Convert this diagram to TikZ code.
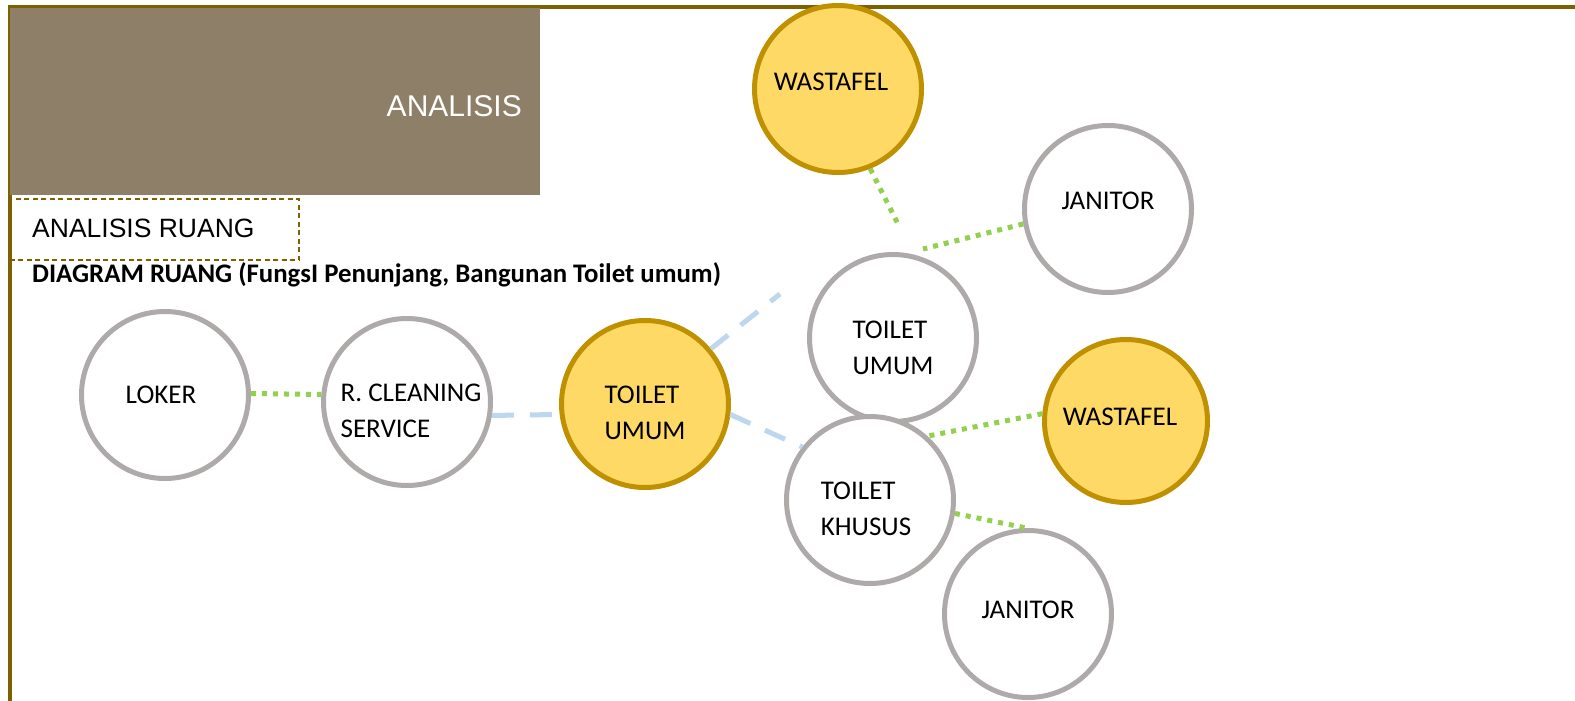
\documentclass[tikz,border=0pt]{standalone}
\usepackage{fontspec}
\setmainfont{Carlito}
\newfontfamily\arialf{Liberation Sans}
\usetikzlibrary{calc}
\definecolor{frame}{HTML}{7F6000}
\definecolor{headbg}{HTML}{8E8068}
\definecolor{cgray}{HTML}{AEAAAA}
\definecolor{yfill}{HTML}{FFD966}
\definecolor{yline}{HTML}{BF9000}
\definecolor{lgreen}{HTML}{92D050}
\definecolor{lblue}{HTML}{BDD7EE}
\tikzset{
  room/.style={circle, draw=cgray, line width=5pt, fill=white, inner sep=0pt, minimum size=167pt},
  yroom/.style={room, draw=yline, fill=yfill},
  lbl/.style={inner sep=0pt, align=left, font=\fontsize{27}{36}\selectfont},
  greenlink/.style={draw=lgreen, line width=5pt, dash pattern=on 5pt off 6pt},
  bluelink/.style={draw=lblue, line width=5pt, dash pattern=on 22pt off 16pt},
}
\begin{document}
\begin{tikzpicture}[x=1pt,y=-1pt]
\useasboundingbox (0,0) rectangle (1575,701);
\fill[white] (0,0) rectangle (1575,701);
% frame
\draw[frame, line width=3.5pt] (1575,7) -- (10,7) -- (10,701);
% header
\fill[headbg] (10,8.5) rectangle (540,195);
\node[inner sep=0pt, anchor=base east, text=white, font=\arialf\fontsize{30}{36}\selectfont] (title) at (522,117) {ANALISIS};
\draw[frame, line width=1.5pt, dash pattern=on 5pt off 3.5pt] (11,199) rectangle (299,260);
\node[inner sep=0pt, anchor=base west, font=\arialf\fontsize{26.5}{32}\selectfont] (sub) at (32,237) {ANALISIS RUANG};
\node[inner sep=0pt, anchor=base west, font=\bfseries\fontsize{26.8}{32}\selectfont] (cap) at (32,282) {DIAGRAM RUANG (FungsI Penunjang, Bangunan Toilet umum)};
% rooms
\node[room] (loker) at (165,395) {};
\node[room] (clean) at (407,402) {};
\node[yroom] (tuy) at (645,404) {};
\node[yroom] (wastop) at (838,89) {};
\node[room] (jantop) at (1108,209) {};
\node[room] (tuw) at (893,338) {};
\node[room] (tk) at (870,500) {};
\node[yroom, minimum size=163pt] (wasr) at (1126,421) {};
\node[room] (janb) at (1028,614) {};
% labels
\node[lbl] (lloker) at ($(loker)+(-4,0)$) {LOKER};
\node[lbl] (lclean) at ($(clean)+(4,9)$) {R. CLEANING\\SERVICE};
\node[lbl] (ltuy) at ($(tuy)+(0,9)$) {TOILET\\UMUM};
\node[lbl] (lwastop) at ($(wastop)+(-7,-7)$) {WASTAFEL};
\node[lbl] (ljantop) at ($(jantop)+(0,-8)$) {JANITOR};
\node[lbl] (ltuw) at ($(tuw)+(0,10)$) {TOILET\\UMUM};
\node[lbl] (ltk) at ($(tk)+(-4,9)$) {TOILET\\KHUSUS};
\node[lbl] (lwasr) at ($(wasr)+(-6,-4)$) {WASTAFEL};
\node[lbl] (ljanb) at ($(janb)+(0,-4)$) {JANITOR};
% free ends
\coordinate (tuyend) at (780,294);
\coordinate (wend) at (898,224);
\coordinate (jend) at (923,249);
% connectors
\draw[greenlink] (loker.1) -- (clean.175);
\draw[bluelink] (clean.-9) -- (tuy.187);
\draw[bluelink] (tuy.40) -- (tuyend);
\draw[bluelink] (tuy.-7) -- (tk.142);
\draw[greenlink] (wastop.-68) -- (wend);
\draw[greenlink] (jantop.190) -- (jend);
\draw[greenlink] (wasr.175) -- (tk.48);
\draw[greenlink] (tk.-9) -- (janb.91);
\end{tikzpicture}
\end{document}
